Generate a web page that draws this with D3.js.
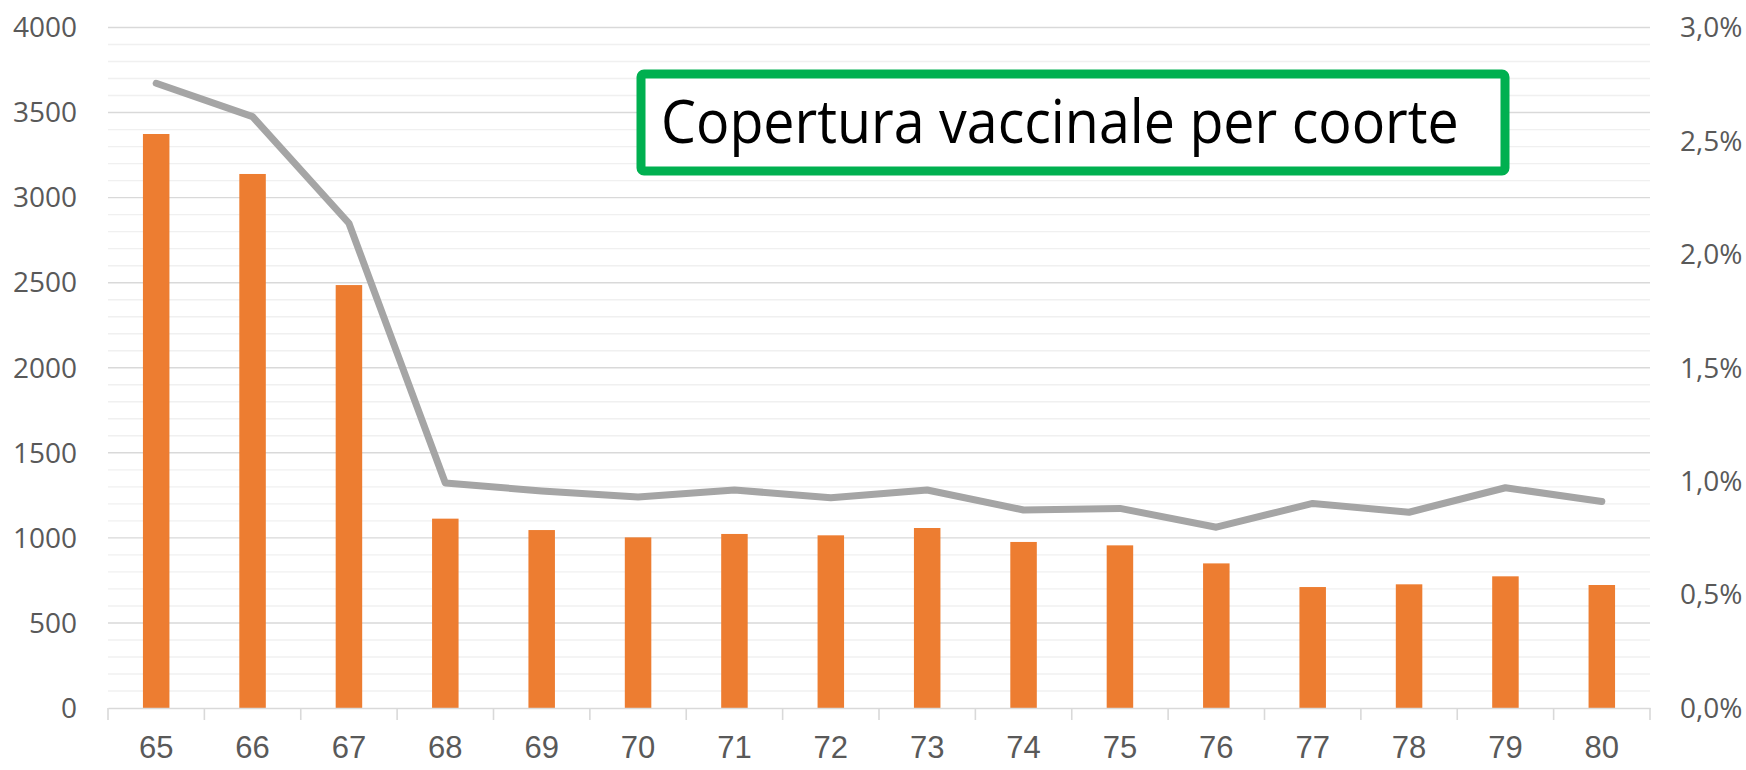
<!DOCTYPE html>
<html>
<head>
<meta charset="utf-8">
<script src="https://cdn.jsdelivr.net/npm/d3@7"></script>
<style>
  body { margin: 0; background: #fff; }
  svg { display: block; font-family: "Open Sans", sans-serif; }
</style>
</head>
<body>
<svg id="chart"></svg>
<script>
// cohort (year of birth, last two digits)
var cohorts = ["65", "66", "67", "68", "69", "70", "71", "72", "73", "74", "75", "76", "77", "78", "79", "80"];
// vaccinated people per cohort (left axis)
var vaccinated = [3374, 3139, 2486, 1113, 1046, 1003, 1023, 1015, 1058, 976, 956, 850, 711, 727, 774, 723];
// coverage in percent (right axis)
var coverage = [2.754, 2.607, 2.137, 0.992, 0.957, 0.930, 0.961, 0.927, 0.961, 0.873, 0.880, 0.797, 0.902, 0.863, 0.971, 0.910];
var leftTicks = [0, 500, 1000, 1500, 2000, 2500, 3000, 3500, 4000];
var rightTicks = [0, 0.5, 1, 1.5, 2, 2.5, 3];
var title = "Copertura vaccinale per coorte";

var width = 1746,
    height = 770;

var plot = { left: 108, right: 1650, top: 27.5, bottom: 708 };

var svg = d3.select('#chart')
    .attr('width', width)
    .attr('height', height);

var x = d3.scaleBand()
    .domain(cohorts)
    .range([plot.left, plot.right])
    .padding(0);

var yLeft = d3.scaleLinear()
    .domain([0, 4000])
    .range([plot.bottom, plot.top]);

var yRight = d3.scaleLinear()
    .domain([0, 3])
    .range([plot.bottom, plot.top]);

var it = d3.formatLocale({ decimal: ",", thousands: ".", grouping: [3], currency: ["€", ""] });
var pct = function (v) { return it.format(".1f")(v) + "%"; };

// minor gridlines every 100
var minor = d3.range(100, 4000, 100).filter(function (v) { return v % 500 !== 0; });
svg.append('g').selectAll('line')
    .data(minor).enter()
    .append('line')
    .attr('x1', plot.left).attr('x2', plot.right)
    .attr('y1', function (d) { return yLeft(d); })
    .attr('y2', function (d) { return yLeft(d); })
    .attr('stroke', '#f0f0f0')
    .attr('stroke-width', 1.4);

// major gridlines
svg.append('g').selectAll('line')
    .data(leftTicks.slice(1)).enter()
    .append('line')
    .attr('x1', plot.left).attr('x2', plot.right)
    .attr('y1', function (d) { return yLeft(d); })
    .attr('y2', function (d) { return yLeft(d); })
    .attr('stroke', '#d9d9d9')
    .attr('stroke-width', 1.4);

// bars
var barW = x.bandwidth() * 0.275;
svg.append('g').selectAll('rect')
    .data(cohorts).enter()
    .append('rect')
    .attr('x', function (d) { return x(d) + x.bandwidth() / 2 - barW / 2; })
    .attr('y', function (d, i) { return yLeft(vaccinated[i]); })
    .attr('width', barW)
    .attr('height', function (d, i) { return plot.bottom - yLeft(vaccinated[i]); })
    .attr('fill', '#ed7d31');

// x axis
var xAxis = svg.append('g')
    .attr('transform', 'translate(0,' + plot.bottom + ')')
    .call(d3.axisBottom(x).tickSize(0).tickPadding(0).tickFormat(''));
xAxis.select('.domain').attr('stroke', '#d9d9d9').attr('stroke-width', 1.6);
xAxis.selectAll('.tick').remove();

var bounds = cohorts.map(function (d) { return x(d); }).concat([plot.right]);
xAxis.selectAll('line.sep')
    .data(bounds).enter()
    .append('line')
    .attr('class', 'sep')
    .attr('x1', function (d) { return d; })
    .attr('x2', function (d) { return d; })
    .attr('y1', 0).attr('y2', 12)
    .attr('stroke', '#d9d9d9')
    .attr('stroke-width', 1.6);

xAxis.selectAll('text.lab')
    .data(cohorts).enter()
    .append('text')
    .attr('class', 'lab')
    .attr('x', function (d) { return x(d) + x.bandwidth() / 2; })
    .attr('y', 50)
    .attr('text-anchor', 'middle')
    .attr('fill', '#595959')
    .style('font-size', '31px')
    .text(function (d) { return d; });

// left axis labels
svg.append('g').selectAll('text')
    .data(leftTicks).enter()
    .append('text')
    .attr('x', 77)
    .attr('y', function (d) { return yLeft(d); })
    .attr('dy', '0.35em')
    .attr('text-anchor', 'end')
    .attr('fill', '#595959')
    .style('font-size', '28px')
    .text(function (d) { return d; });

// right axis labels
svg.append('g').selectAll('text')
    .data(rightTicks).enter()
    .append('text')
    .attr('x', 1680)
    .attr('y', function (d) { return yRight(d); })
    .attr('dy', '0.35em')
    .attr('text-anchor', 'start')
    .attr('fill', '#595959')
    .style('font-size', '28px')
    .text(function (d) { return pct(d); });

// coverage line
var line = d3.line()
    .x(function (d, i) { return x(cohorts[i]) + x.bandwidth() / 2; })
    .y(function (d) { return yRight(d); });

svg.append('path')
    .datum(coverage)
    .attr('d', line)
    .attr('fill', 'none')
    .attr('stroke', '#a5a5a5')
    .attr('stroke-width', 7)
    .attr('stroke-linejoin', 'round')
    .attr('stroke-linecap', 'round');

// title box
var box = { x: 641, y: 74, w: 864, h: 97 };
svg.append('rect')
    .attr('x', box.x).attr('y', box.y)
    .attr('width', box.w).attr('height', box.h)
    .attr('rx', 3)
    .attr('fill', '#fff')
    .attr('stroke', '#00b050')
    .attr('stroke-width', 9);

var t = svg.append('text')
    .attr('x', 0)
    .attr('y', 0)
    .attr('fill', '#000')
    .style('font-size', '60px')
    .text(title);
var tw = t.node().getComputedTextLength();
var sx = 798 / tw;
t.attr('transform', 'translate(661,143) scale(' + sx + ',1)');
</script>
</body>
</html>
